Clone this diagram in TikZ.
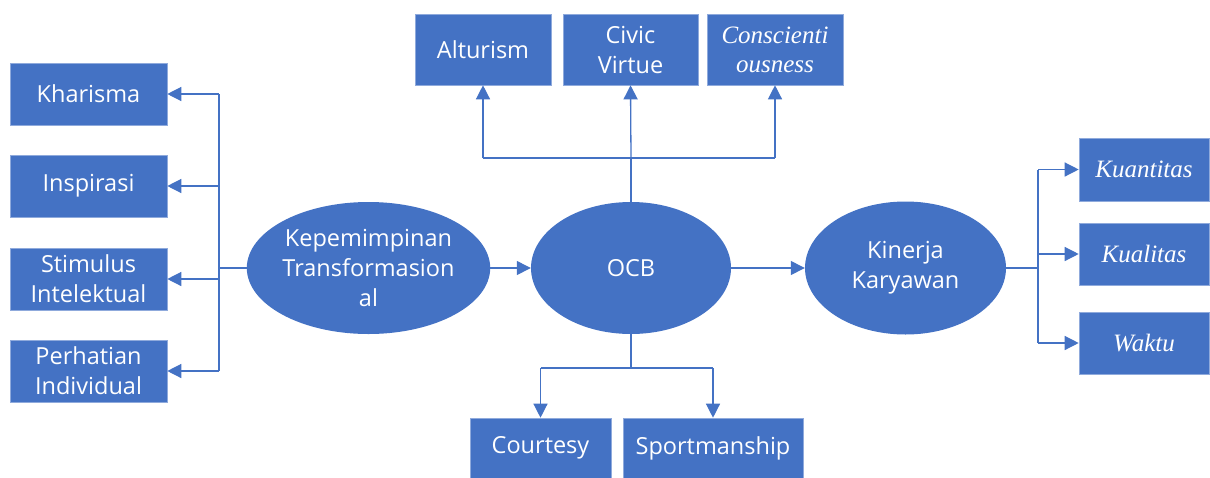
\documentclass[tikz,border=0pt]{standalone}
\usepackage{fontspec}
\setmainfont{Open Sans}
\newfontfamily\tnr{Liberation Serif}
\usetikzlibrary{arrows.meta,shapes.geometric}
\definecolor{ofblue}{HTML}{4472C4}
\definecolor{edgeblue}{HTML}{8FAADC}
\tikzset{
  box/.style={fill=ofblue,draw=edgeblue,line width=0.6pt,text=white,align=center,inner sep=0pt,
    font=\fontsize{23.5}{30}\selectfont},
  ibox/.style={box,font=\tnr\itshape\fontsize{25}{29}\selectfont},
  ell/.style={ellipse,fill=ofblue,text=white,align=center,inner sep=0pt,
    font=\fontsize{23.5}{30}\selectfont},
  conn/.style={draw=ofblue,line width=1.3pt},
  arr/.style={conn,-{Triangle[length=14pt,width=14pt]}}
}
\begin{document}
\begin{tikzpicture}[x=1pt,y=-1pt]
\useasboundingbox (0,0) rectangle (1210,477);
% left boxes
\node[box,minimum width=157pt,minimum height=62pt] (khar) at (88.5,94) {Kharisma};
\node[box,minimum width=157pt,minimum height=62pt] (insp) at (88.5,186) {Inspirasi};
\node[box,minimum width=157pt,minimum height=62pt] (stim) at (88.5,279) {Stimulus\\Intelektual};
\node[box,minimum width=157pt,minimum height=62pt] (perh) at (88.5,371) {Perhatian\\Individual};
% top boxes
\node[box,minimum width=136pt,minimum height=71pt] (altu) at (483,49.5) {Alturism};
\node[box,minimum width=135pt,minimum height=71pt] (civi) at (630.5,49.5) {Civic\\Virtue};
\node[ibox,minimum width=136pt,minimum height=71pt] (cons) at (775,49.5) {Conscienti\\ousness};
% right boxes
\node[ibox,minimum width=130pt,minimum height=63pt] (kuan) at (1144,169.5) {Kuantitas};
\node[ibox,minimum width=130pt,minimum height=62pt] (kual) at (1144,254) {Kualitas};
\node[ibox,minimum width=130pt,minimum height=62pt] (wakt) at (1144,343) {Waktu};
% bottom boxes
\node[box,minimum width=141pt,minimum height=60pt] (cour) at (540.5,448) {Courtesy};
\node[box,minimum width=180pt,minimum height=60pt] (spor) at (713,448) {Sportmanship};
% ellipses
\node[ell,minimum width=233pt,minimum height=132pt] (kep) at (368.5,268) {Kepemimpinan\\Transformasion\\al};
\node[ell,minimum width=200pt,minimum height=132pt] (ocb) at (631,268) {OCB};
\node[ell,minimum width=201pt,minimum height=133pt] (kin) at (905.5,268) {Kinerja\\Karyawan};
% junction coordinates
\coordinate (lt) at (219,268);
\coordinate (tp) at (631,158);
\coordinate (bt) at (631,368);
\coordinate (rt) at (1038,268);
% left connectors
\draw[conn] (kep.west) -- (lt);
\draw[conn] (lt |- khar.east) -- (lt |- perh.east);
\draw[arr] (lt |- khar.east) -- (khar.east);
\draw[arr] (lt |- insp.east) -- (insp.east);
\draw[arr] (lt |- stim.east) -- (stim.east);
\draw[arr] (lt |- perh.east) -- (perh.east);
% main flow
\draw[arr] (kep.east) -- (ocb.west);
\draw[arr] (ocb.east) -- (kin.west);
% top connectors
\draw[conn] (ocb.north) -- (tp);
\draw[conn] (altu.south |- tp) -- (cons.south |- tp);
\draw[arr] (altu.south |- tp) -- (altu.south);
\draw[arr] (tp) -- (civi.south);
\draw[arr] (cons.south |- tp) -- (cons.south);
% bottom connectors
\draw[conn] (ocb.south) -- (bt);
\draw[conn] (cour.north |- bt) -- (spor.north |- bt);
\draw[arr] (cour.north |- bt) -- (cour.north);
\draw[arr] (spor.north |- bt) -- (spor.north);
% right connectors
\draw[conn] (kin.east) -- (rt);
\draw[conn] (rt |- kuan.west) -- (rt |- wakt.west);
\draw[arr] (rt |- kuan.west) -- (kuan.west);
\draw[arr] (rt |- kual.west) -- (kual.west);
\draw[arr] (rt |- wakt.west) -- (wakt.west);
\end{tikzpicture}
\end{document}
